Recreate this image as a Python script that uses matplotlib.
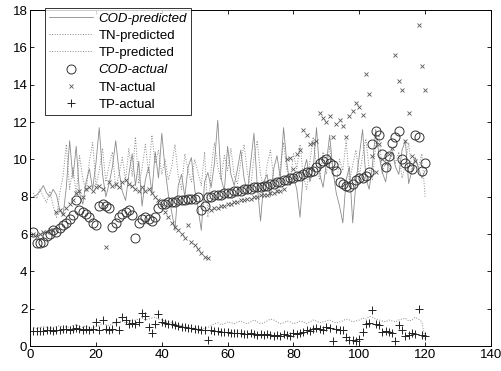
import numpy as np
from matplotlib import pyplot as plt

# 横軸（サンプル番号）
x = np.arange(1, 121)

# COD 実測値
cod_actual = [6.1, 5.5, 5.5, 5.6, 5.9, 6.0, 6.2, 6.1, 6.3, 6.5,
              6.6, 6.8, 7.0, 7.8, 7.3, 7.2, 7.1, 6.9, 6.6, 6.5,
              7.5, 7.6, 7.5, 7.4, 6.4, 6.6, 6.9, 7.1, 7.2, 7.3,
              7.0, 5.8, 6.6, 6.8, 6.9, 6.8, 6.7, 6.9, 7.4, 7.6,
              7.6, 7.7, 7.7, 7.7, 7.8, 7.8, 7.8, 7.9, 7.9, 7.9,
              8.0, 7.3, 7.5, 8.0, 8.0, 8.1, 8.1, 8.1, 8.2, 8.2,
              8.2, 8.3, 8.3, 8.3, 8.4, 8.4, 8.4, 8.5, 8.5, 8.5,
              8.6, 8.6, 8.7, 8.7, 8.8, 8.8, 8.9, 8.9, 9.0, 9.0,
              9.1, 9.1, 9.2, 9.3, 9.3, 9.4, 9.6, 9.8, 9.9, 10.0,
              9.8, 9.7, 9.4, 8.8, 8.7, 8.6, 8.5, 8.7, 8.9, 9.0,
              9.0, 9.1, 9.3, 10.8, 11.5, 11.3, 10.3, 9.6, 10.2, 10.9,
              11.2, 11.5, 10.0, 9.8, 9.6, 9.5, 11.3, 11.2, 9.4, 9.8]

# TN 実測値
tn_actual = [6.0, 5.9, 6.0, 6.1, 6.1, 6.2, 6.2, 7.2, 7.3, 7.1,
             7.4, 7.6, 7.8, 8.2, 8.3, 8.0, 8.4, 8.5, 8.3, 8.5,
             8.6, 8.4, 5.3, 8.8, 8.6, 8.7, 8.5, 8.8, 8.9, 8.7,
             8.6, 8.4, 8.3, 8.5, 8.3, 8.4, 8.2, 8.0, 7.8, 7.6,
             7.2, 6.9, 6.6, 6.4, 6.2, 6.0, 5.8, 6.5, 5.6, 5.4,
             5.2, 5.0, 4.8, 4.7, 7.3, 7.4, 7.4, 7.5, 7.5, 7.6,
             7.6, 7.7, 7.7, 7.8, 7.8, 7.9, 7.9, 8.0, 8.0, 8.1,
             8.1, 8.1, 8.2, 8.2, 8.3, 8.3, 8.4, 10.0, 10.1, 9.5,
             10.3, 10.5, 11.6, 11.3, 10.8, 10.9, 11.0, 12.5, 12.2, 12.0,
             12.3, 11.2, 11.9, 12.1, 11.8, 11.2, 12.3, 12.6, 13.0, 12.8,
             12.4, 14.6, 13.5, 10.2, 9.3, 10.8, 10.0, 9.8, 10.3, 10.6,
             15.6, 14.2, 13.7, 11.0, 12.5, 10.2, 9.9, 17.2, 15.0, 13.7]

# TP 実測値
tp_actual = [0.8, 0.8, 0.8, 0.8, 0.85, 0.85, 0.8, 0.85, 0.85, 0.9,
             0.9, 0.85, 0.9, 0.95, 0.9, 0.85, 0.9, 0.85, 0.9, 1.3,
             0.85, 1.4, 0.9, 0.85, 0.9, 1.3, 0.85, 1.55, 1.4, 1.2,
             1.25, 1.2, 1.3, 1.75, 1.6, 1.0, 0.7, 1.2, 1.7, 1.3,
             1.25, 1.2, 1.2, 1.15, 1.1, 1.05, 1.0, 0.95, 0.95, 0.9,
             0.9, 0.85, 0.85, 0.35, 0.85, 0.8, 0.8, 0.75, 0.75, 0.75,
             0.7, 0.7, 0.7, 0.7, 0.65, 0.65, 0.7, 0.65, 0.6, 0.65,
             0.6, 0.65, 0.6, 0.55, 0.6, 0.55, 0.65, 0.6, 0.55, 0.7,
             0.65, 0.7, 0.75, 0.85, 0.8, 0.9, 0.95, 0.9, 0.85, 1.0,
             0.95, 0.3, 0.9, 0.85, 0.85, 0.5, 0.35, 0.35, 0.3, 0.4,
             0.75, 1.2, 1.25, 1.95, 1.2, 1.15, 0.75, 0.8, 0.75, 0.7,
             0.3, 1.15, 0.85, 0.55, 0.6, 0.7, 0.65, 2.0, 0.6, 0.55]

# COD 予測値
cod_pred = [8.0, 8.1, 8.3, 8.6, 8.2, 8.0, 8.4, 8.1, 7.3, 7.0,
            8.5, 11.0, 9.0, 10.7, 8.2, 7.6, 8.8, 9.5, 8.4, 9.8,
            11.7, 9.2, 8.0, 8.7, 9.6, 11.0, 9.4, 8.3, 7.8, 9.2,
            10.3, 8.6, 9.9, 7.5, 8.9, 9.6, 8.2, 10.4, 9.0, 11.4,
            9.5, 8.1, 7.2, 6.2, 8.6, 9.2, 8.0, 9.6, 10.1, 8.4,
            7.4, 6.2, 8.8, 9.3, 8.5, 9.8, 12.1, 9.0, 8.3, 10.7,
            9.2, 8.6, 9.5, 10.5, 9.0, 8.2, 9.8, 11.4, 8.6, 6.7,
            8.8, 9.2, 8.0, 9.5, 10.2, 9.0, 11.7, 9.8, 8.6, 9.1,
            8.4, 6.9, 9.3, 10.0, 8.8, 9.5, 11.7, 9.2, 8.5, 9.8,
            11.3, 9.4, 8.2, 7.5, 6.6, 8.9, 9.6, 6.6, 8.8, 10.2,
            11.6, 9.0, 8.4, 9.7, 11.6, 10.2, 9.3, 8.8, 9.9, 10.4,
            9.6, 9.2, 10.5, 11.0, 8.7, 9.4, 10.1, 9.5, 9.0, 9.4]

# TN 予測値
tn_pred = [8.2, 7.9, 8.4, 8.0, 7.7, 8.3, 7.5, 6.9, 8.2, 9.1,
           10.8, 8.4, 9.6, 8.1, 10.2, 9.0, 8.3, 9.9, 10.9, 8.6,
           9.4, 10.6, 8.8, 9.7, 10.4, 8.5, 9.2, 10.1, 8.9, 10.6,
           9.1, 11.2, 8.7, 9.5, 10.8, 9.3, 11.3, 9.8, 10.5, 9.2,
           10.0, 8.9, 9.6, 10.8, 9.1, 8.4, 10.3, 9.4, 8.8, 10.0,
           9.3, 8.6, 10.4, 6.9, 9.5, 10.9, 9.6, 8.9, 10.2, 9.4,
           10.6, 9.1, 8.7, 9.9, 10.8, 9.3, 8.5, 10.1, 11.0, 9.2,
           8.4, 9.7, 10.5, 9.0, 8.2, 9.6, 10.9, 9.4, 8.8, 10.3,
           9.5, 10.8, 9.1, 8.4, 9.9, 11.2, 9.6, 8.9, 10.4, 9.2,
           10.7, 9.3, 8.6, 10.0, 9.4, 11.0, 8.8, 9.7, 10.5, 9.1,
           10.2, 11.1, 9.5, 8.9, 10.8, 11.3, 9.2, 10.0, 9.4, 10.6,
           9.8, 10.4, 9.0, 9.7, 10.9, 9.3, 10.1, 9.6, 10.3, 8.0]

# TP 予測値
tp_pred = [1.0, 0.95, 1.0, 1.05, 1.0, 0.95, 1.0, 1.05, 1.1, 1.0,
           1.05, 1.0, 1.1, 1.15, 1.05, 1.0, 1.1, 1.0, 0.95, 1.05,
           1.1, 1.2, 1.15, 1.1, 1.2, 1.25, 1.3, 1.35, 1.25, 1.3,
           1.35, 1.4, 1.45, 1.5, 1.4, 1.45, 1.5, 1.55, 1.45, 1.4,
           1.35, 1.3, 1.25, 1.2, 1.15, 1.1, 1.05, 1.0, 1.0, 0.95,
           0.95, 0.9, 0.95, 1.0, 1.1, 1.2, 1.25, 1.15, 1.2, 1.3,
           1.25, 1.2, 1.3, 1.35, 1.25, 1.2, 1.3, 1.4, 1.3, 1.2,
           1.25, 1.35, 1.45, 1.4, 1.3, 1.2, 1.25, 1.35, 1.3, 1.2,
           1.25, 1.35, 1.3, 1.2, 1.3, 1.4, 1.35, 1.25, 1.3, 1.35,
           1.4, 1.3, 1.25, 1.3, 1.35, 1.45, 1.4, 1.3, 1.35, 1.4,
           1.5, 1.45, 1.6, 1.55, 1.45, 1.4, 1.35, 1.3, 1.4, 1.35,
           1.3, 1.4, 1.45, 1.5, 1.35, 1.4, 1.55, 1.45, 1.3, 0.4]

plt.rcParams['font.family'] = ['Liberation Sans', 'DejaVu Sans']

fig = plt.figure(figsize=(5.02, 3.71), dpi=100)
ax = fig.add_axes([0.06, 0.067, 0.918, 0.906])

# 予測値（線）
ax.plot(x, cod_pred, '-', color='#8c8c8c', lw=0.6, label='COD-predicted')
ax.plot(x, tn_pred, ':', color='#8a8a8a', lw=0.7, label='TN-predicted')
ax.plot(x, tp_pred, ':', color='#8a8a8a', lw=0.7, label='TP-predicted')

# 実測値（マーカー）
ax.plot(x, cod_actual, 'o', mfc='none', mec='#333333', mew=0.7, ms=6.5,
        ls='none', label='COD-actual')
ax.plot(x, tn_actual, 'x', color='#555555', mew=0.6, ms=3.5, ls='none',
        label='TN-actual')
ax.plot(x, tp_actual, '+', color='#222222', mew=0.7, ms=6, ls='none',
        label='TP-actual')

ax.set_xlim(0, 140)
ax.set_ylim(0, 18)
ax.set_xticks(np.arange(0, 141, 20))
ax.set_yticks(np.arange(0, 19, 2))
ax.tick_params(direction='in', top=True, right=True, labelsize=9.5,
               length=3, width=0.6, pad=2)
for s in ax.spines.values():
    s.set_linewidth(0.7)

leg = ax.legend(loc='upper left', bbox_to_anchor=(0.033, 1.005), fontsize=9.5,
                frameon=True, fancybox=False, edgecolor='black',
                handlelength=3.3, borderpad=0.3, labelspacing=0.38,
                handletextpad=0.45, borderaxespad=0)
leg.get_frame().set_linewidth(0.7)
for t in leg.get_texts():
    if t.get_text().startswith('COD'):
        t.set_style('italic')

fig.savefig('out.png', dpi=100)
plt.close()
